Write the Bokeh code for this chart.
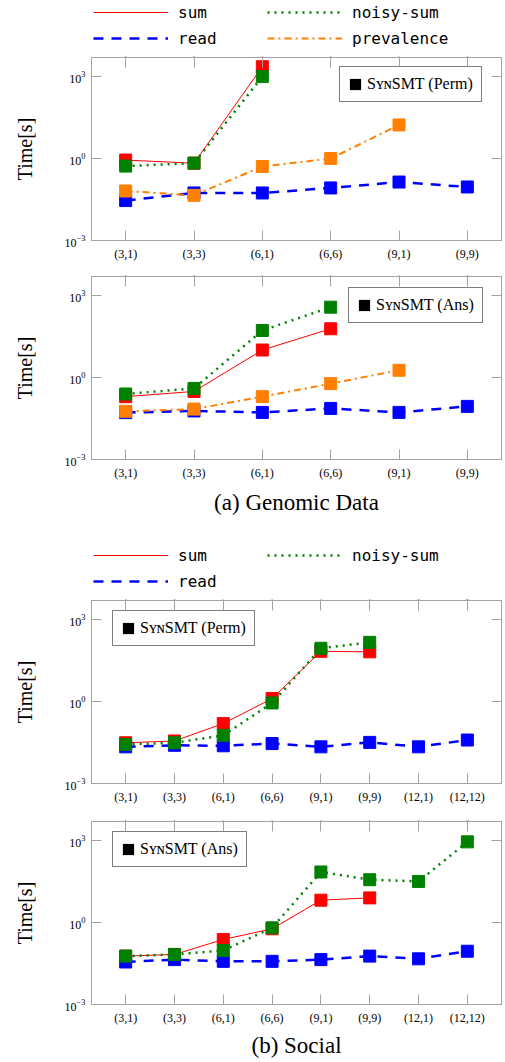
from bokeh.plotting import figure
from bokeh.models import (FactorRange, Range1d, Legend, LegendItem, LogAxis,
                          CategoricalAxis, FixedTicker, Title)
from bokeh.layouts import column
from bokeh.embed import file_html
from bokeh.resources import INLINE

# ---------------- data ----------------
cats_genomic = ["(3,1)", "(3,3)", "(6,1)", "(6,6)", "(9,1)", "(9,9)"]
cats_social = ["(3,1)", "(3,3)", "(6,1)", "(6,6)", "(9,1)", "(9,9)", "(12,1)", "(12,12)"]
y_ticks = [1e-3, 1, 1e3]

genomic_perm_sum = [0.88, 0.675, 2300]
genomic_perm_read = [0.029, 0.055, 0.055, 0.084, 0.138, 0.091]
genomic_perm_noisy = [0.53, 0.68, 1000]
genomic_perm_prev = [0.065, 0.045, 0.51, 1.0, 17]

genomic_ans_sum = [0.20, 0.31, 10.2, 61]
genomic_ans_read = [0.052, 0.06, 0.053, 0.074, 0.053, 0.088]
genomic_ans_noisy = [0.25, 0.40, 53, 377]
genomic_ans_prev = [0.058, 0.07, 0.2, 0.6, 1.85]

social_perm_sum = [0.031, 0.036, 0.156, 1.29, 69, 66]
social_perm_read = [0.022, 0.025, 0.024, 0.029, 0.022, 0.032, 0.022, 0.039]
social_perm_noisy = [0.027, 0.031, 0.058, 0.89, 89, 147]

social_ans_sum = [0.059, 0.068, 0.24, 0.59, 6.6, 8.0]
social_ans_read = [0.036, 0.044, 0.038, 0.038, 0.044, 0.059, 0.047, 0.089]
social_ans_noisy = [0.059, 0.068, 0.095, 0.64, 71, 37, 32, 900]

# ---------------- styles ----------------
GRAY = "#a3a3a3"
STYLES = {
    "sum": dict(color="#ff0000", width=1, dash="solid"),
    "read": dict(color="#0000ff", width=2.5, dash="10 8"),
    "noisy-sum": dict(color="#008000", width=2.5, dash="2 5"),
    "prevalence": dict(color="#ff8000", width=2, dash="7 4 2 4"),
}
LEGEND_ORDER = ["sum", "noisy-sum", "read", "prevalence"]
SERIF = "Liberation Serif"


def make_legend_strip(cats, series, height, loc):
    """A strip above a panel that only holds the series legend.
    Its y-range lies above all data, so the lines themselves fall outside it."""
    q = figure(x_range=FactorRange(factors=cats), y_range=Range1d(1e5, 1e6),
               y_axis_type="log", width=505, height=height, min_border=0,
               x_axis_location=None, y_axis_location=None,
               output_backend="svg", toolbar_location=None)
    q.grid.visible = False
    q.outline_line_color = None
    rends = {}
    for name, vals in series:
        st = STYLES[name]
        rends[name] = q.line(x=cats[:len(vals)], y=vals, line_color=st["color"],
                             line_width=st["width"], line_dash=st["dash"])
    items = [LegendItem(label=n, renderers=[rends[n]])
             for n in LEGEND_ORDER if n in rends]
    lg = Legend(items=items, location=loc, orientation="horizontal",
                ncols=2, glyph_width=75, glyph_height=20, label_standoff=10,
                label_width=83, spacing=6, padding=0, margin=0,
                border_line_color=None,
                background_fill_color="white", background_fill_alpha=1,
                label_text_font="DejaVu Sans Mono", label_text_font_size="16px",
                label_text_color="black")
    q.add_layout(lg)
    return q


def make_panel(cats, pad, series, box_label, box_loc, caption, cap_standoff,
               min_top, min_bottom):
    p = figure(x_range=FactorRange(factors=cats, range_padding=pad,
                                   range_padding_units="absolute"),
               y_range=Range1d(1e-3, 5000), y_axis_type="log",
               frame_width=410, frame_height=183,
               min_border_left=91, min_border_right=3,
               min_border_top=min_top, min_border_bottom=min_bottom,
               output_backend="svg", toolbar_location=None)
    p.grid.visible = False
    p.outline_line_color = GRAY
    p.background_fill_color = "white"

    yax = p.yaxis[0]
    yax.ticker = FixedTicker(ticks=y_ticks)
    yax.axis_label = "Time[s]"
    yax.axis_label_text_font = SERIF
    yax.axis_label_text_font_size = "20px"
    yax.axis_label_text_font_style = "normal"
    yax.axis_label_text_color = "black"
    yax.axis_label_standoff = 26
    yax.major_label_standoff = 6
    yax.major_label_text_font = SERIF
    yax.major_label_text_font_size = "12px"

    xax = p.xaxis[0]
    xax.major_label_standoff = 6
    xax.major_label_text_font = SERIF
    xax.major_label_text_font_size = "12px"

    # tick marks only, on the opposite sides (empty labels)
    top = CategoricalAxis(major_label_text_font_size="1px", major_label_standoff=0,
                          major_label_overrides={c: "" for c in cats})
    p.add_layout(top, "above")
    right = LogAxis(ticker=FixedTicker(ticks=y_ticks),
                    major_label_text_font_size="1px", major_label_standoff=0,
                    major_label_overrides={t: "" for t in y_ticks})
    p.add_layout(right, "right")

    for ax in p.axis:
        ax.axis_line_color = GRAY
        ax.major_tick_line_color = GRAY
        ax.major_tick_in = 10
        ax.major_tick_out = 0
        ax.minor_tick_line_color = None
        ax.major_label_text_color = "black"

    for name, vals in series:
        st = STYLES[name]
        xs = cats[:len(vals)]
        p.line(x=xs, y=vals, line_color=st["color"], line_width=st["width"],
               line_dash=st["dash"])
        p.scatter(x=xs, y=vals, marker="square", size=12,
                  fill_color=st["color"], line_color=st["color"])

    # legend-only black square (hidden renderer built from the first series)
    first_vals = series[0][1]
    box_r = p.rect(x=cats[:len(first_vals)], y=first_vals, width=0.1, height=0.1,
                   fill_color="black", line_color=None, visible=False)
    bl = Legend(items=[LegendItem(label=box_label, renderers=[box_r])],
                location=box_loc, glyph_width=14, glyph_height=14,
                label_standoff=5, padding=8, margin=0,
                border_line_color="black", border_line_width=1,
                inactive_fill_alpha=0,
                label_text_font=SERIF, label_text_font_size="16px",
                label_text_color="black",
                background_fill_color="white", background_fill_alpha=1)
    p.add_layout(bl)

    if caption:
        p.add_layout(Title(text=caption, align="center", text_font=SERIF,
                           text_font_size="23px", text_font_style="normal",
                           text_color="black", standoff=cap_standoff), "below")
    return p


series_gp = [("sum", genomic_perm_sum), ("read", genomic_perm_read),
             ("noisy-sum", genomic_perm_noisy), ("prevalence", genomic_perm_prev)]
series_ga = [("sum", genomic_ans_sum), ("read", genomic_ans_read),
             ("noisy-sum", genomic_ans_noisy), ("prevalence", genomic_ans_prev)]
series_sp = [("sum", social_perm_sum), ("read", social_perm_read),
             ("noisy-sum", social_perm_noisy)]
series_sa = [("sum", social_ans_sum), ("read", social_ans_read),
             ("noisy-sum", social_ans_noisy)]

leg1 = make_legend_strip(cats_genomic, series_gp, 50, (2, 2))
p1 = make_panel(cats_genomic, 0, series_gp, "S\u028f\u0274SMT (Perm)", (248, 138),
                None, 0, 7, 26)
p2 = make_panel(cats_genomic, 0, series_ga, "S\u028f\u0274SMT (Ans)", (257, 136),
                "(a) Genomic Data", 11, 10, 71)
leg3 = make_legend_strip(cats_social, series_sp, 63, (2, 2))
p3 = make_panel(cats_social, 0.2, series_sp, "S\u028f\u0274SMT (Perm)", (21, 137),
                None, 0, 7, 25)
p4 = make_panel(cats_social, 0.2, series_sa, "S\u028f\u0274SMT (Ans)", (21, 137),
                "(b) Social", 7, 13, 58)

layout = column(leg1, p1, p2, leg3, p3, p4, spacing=0)
open("out.html", "w").write(file_html(layout, INLINE))
